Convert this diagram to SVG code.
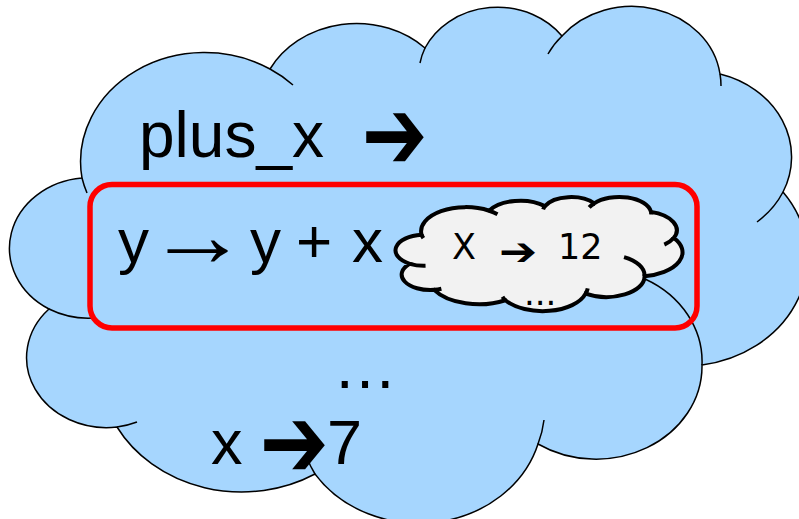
<svg xmlns="http://www.w3.org/2000/svg" xmlns:xlink="http://www.w3.org/1999/xlink" width="799" height="519" viewBox="0 0 799 519">
  <style>
    .big { fill: #A6D6FE; stroke: #000; stroke-width: 1.5; }
    .bigtail { fill: none; stroke: #000; stroke-width: 1.5; }
    .small { fill: #F2F2F2; stroke: #000; stroke-width: 4; }
    .smalltail { fill: none; stroke: #000; stroke-width: 4; }
    .sans { font-family: "Liberation Sans", Arial, sans-serif; fill: #000; }
    .dv { font-family: "DejaVu Sans", sans-serif; fill: #000; }
  </style>
  <defs>
    <path id="cloudShape" vector-effect="non-scaling-stroke" d="M 82,178 A 124 109 0 0 1 270,69 A 98 86 0 0 1 425,48 A 80 70.5 0 0 1 562,36 A 89 78 0 0 1 720,74 A 98 86 0 0 1 783,192 A 124 109 0 0 1 702,365 A 106 93 0 0 1 538,444 A 124 109 0 0 1 315,474 A 142 125 0 0 1 117,427 A 80 70 0 0 1 49,309 A 80 70.5 0 0 1 82,178 Z"/>
    <path id="cloudTails" vector-effect="non-scaling-stroke" d="M 82,178 A 124 109 0 0 0 87,193 M 270,69 A 124 109 0 0 1 293,85 M 425,48 A 80 70.5 0 0 0 420,63 M 562,36 A 89 78 0 0 0 548,54 M 720,74 A 89 78 0 0 1 721,86 M 783,192 A 98 86 0 0 1 757,222 M 702,365 A 106 93 0 0 0 645,279 M 538,444 A 124 109 0 0 0 544,420 M 315,474 A 124 109 0 0 1 307,458 M 117,427 A 80 70 0 0 0 137,422 M 49,309 A 80 70.5 0 0 0 93,318"/>
  </defs>

  <g id="outer-cloud">
    <use xlink:href="#cloudShape" href="#cloudShape" class="big"/>
    <use xlink:href="#cloudTails" href="#cloudTails" class="bigtail"/>
  </g>

  <g id="label-plus-x">
    <text class="sans" x="139" y="157" font-size="64">plus_x</text>
    <text class="dv" transform="translate(361.8,168.8) scale(1.31,1.68)" x="0" y="0" font-size="60">➔</text>
  </g>

  <g id="frame">
    <rect x="90" y="184.5" width="607" height="143.5" rx="22" ry="22" fill="none" stroke="#FF0000" stroke-width="5.5"/>
  </g>

  <g id="label-lambda">
    <text class="sans" y="262" font-size="62"><tspan x="118">y</tspan><tspan x="250">y</tspan><tspan x="296">+</tspan><tspan x="352">x</tspan></text>
    <text class="sans" transform="translate(146.5,265.5) scale(1.13,1)" x="0" y="0" font-size="90">→</text>
  </g>

  <g id="inner-cloud">
    <g transform="matrix(0.3596,0,0,0.221,392.1,195.5)">
      <use xlink:href="#cloudShape" href="#cloudShape" class="small"/>
      <use xlink:href="#cloudTails" href="#cloudTails" class="smalltail"/>
    </g>
    <text class="dv" y="259" font-size="35"><tspan x="452">X</tspan><tspan x="558">12</tspan></text>
    <text class="dv" transform="translate(499,264.5) scale(1.52,1.29)" x="0" y="0" font-size="30">➔</text>
    <text class="dv" x="524" y="305" font-size="34">...</text>
  </g>

  <g id="label-dots">
    <text class="sans" x="333" y="388" font-size="64">…</text>
  </g>

  <g id="label-x7">
    <text class="sans" x="211" y="464" font-size="63">x</text>
    <text class="dv" transform="translate(259.5,476.8) scale(1.38,1.68)" x="0" y="0" font-size="60">➔</text>
    <text class="sans" x="327" y="464" font-size="63">7</text>
  </g>
</svg>
